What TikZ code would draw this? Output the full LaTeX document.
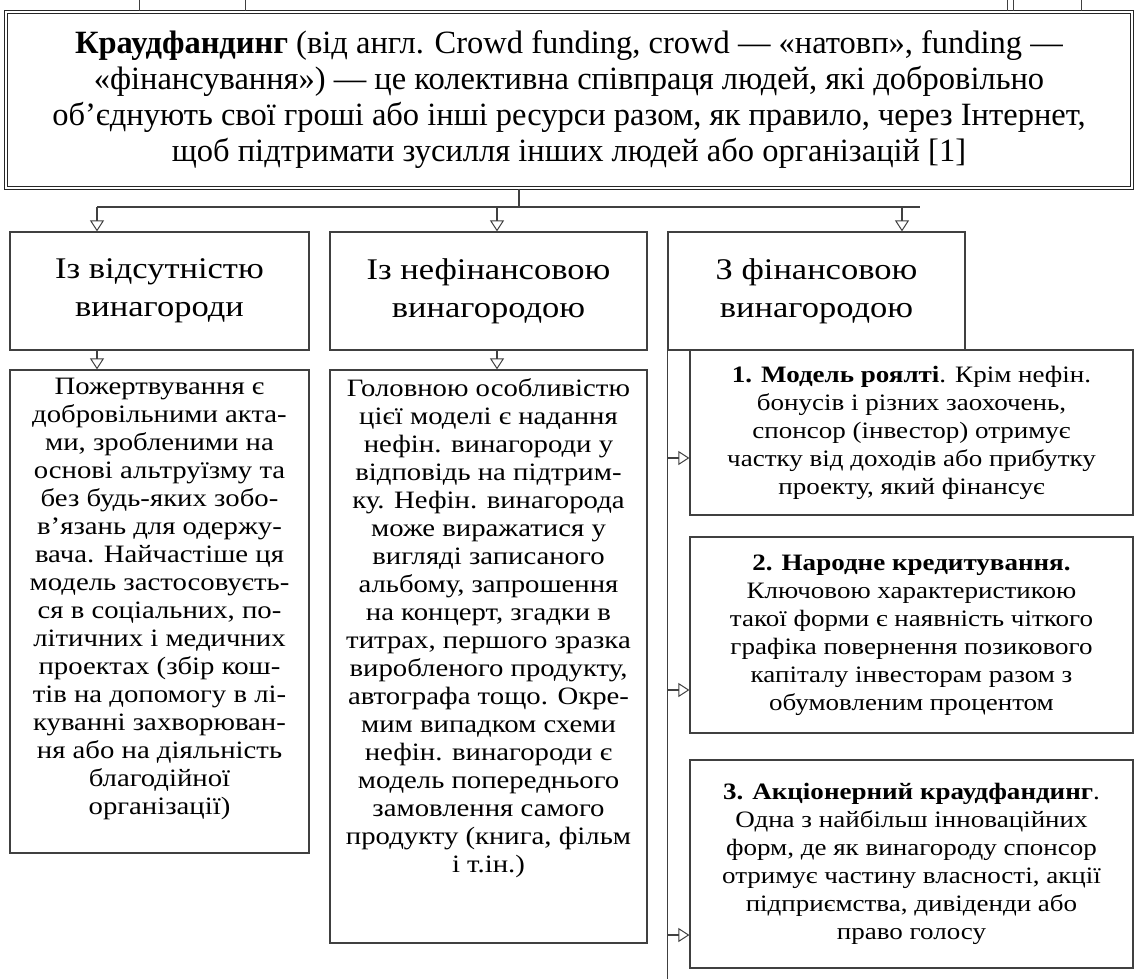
\documentclass[tikz,border=0pt]{standalone}
\usepackage{fontspec}
\setmainfont{Liberation Serif}
\newfontfamily\widefont[FakeStretch=1.15]{Liberation Serif}
\usetikzlibrary{arrows.meta,positioning}

\begin{document}
\begin{tikzpicture}[x=1pt,y=-1pt,
    frame/.style={draw=black!75, line width=1.2pt, inner sep=0pt, align=center},
    mainbox/.style={draw=black!85, line width=1.1pt, double, double distance=2.4pt, inner sep=0pt, align=center, font=\fontsize{32.5}{36}\selectfont},
    head/.style={frame, minimum height=118pt, font=\widefont\fontsize{30}{38}\selectfont},
    kind/.style={frame, minimum width=443pt, font=\widefont\fontsize{23.5}{28}\selectfont},
    body/.style={inner sep=0pt, align=center, font=\widefont\fontsize{25}{28}\selectfont},
    link/.style={draw=black!75, line width=1.1pt},
    arr/.style={link, -{Triangle[open,length=11pt,width=14pt,line width=1pt]}},
  ]
  \useasboundingbox (0,0) rectangle (1138,979);

  % definition
  \node[mainbox, minimum width=1126pt, minimum height=176pt] (crowd) at (569,100)
    {\textbf{Краудфандинг} (від англ. Crowd funding, crowd — «натовп», funding —\\
     «фінансування») — це колективна співпраця людей, які добровільно\\
     об’єднують свої гроші або інші ресурси разом, як правило, через Інтернет,\\
     щоб підтримати зусилля інших людей або організацій [1]};
  \foreach \xm in {139,245,1007,1013,1081}
    \draw[link, line width=0.8pt] (\xm,0) -- (\xm,0 |- crowd.north);

  % three kinds of reward
  \node[head, minimum width=299pt] (none) at (159.5,291) {Із відсутністю\\винагороди};
  \node[head, minimum width=317pt] (nonfin) at (488.5,291) {Із нефінансовою\\винагородою};
  \node[head, minimum width=297pt] (fin) at (816.5,291) {З фінансовою\\винагородою};

  \coordinate (bus) at (519,207);
  \coordinate (ca) at (97,0);
  \coordinate (cb) at (497,0);
  \coordinate (cc) at (902,0);
  \draw[link] (bus |- crowd.south) -- (bus);
  \draw[link] (ca |- bus) -- (920,207);
  \draw[arr] (ca |- bus) -- (ca |- none.north);
  \draw[arr] (cb |- bus) -- (cb |- nonfin.north);
  \draw[arr] (cc |- bus) -- (cc |- fin.north);

  % descriptions
  \node[frame, minimum width=299pt, minimum height=483pt] (donat) at (159.5,611.5) {};
  \node[body, anchor=north] (donattxt) at ([yshift=-9pt]donat.north)
    {Пожертвування є\\добровільними акта-\\ми, зробленими на\\основі альтруїзму та\\
     без будь-яких зобо-\\в’язань для одержу-\\вача. Найчастіше ця\\модель застосовуєть-\\
     ся в соціальних, по-\\літичних і медичних\\проектах (збір кош-\\тів на допомогу в лі-\\
     куванні захворюван-\\ня або на діяльність\\благодійної\\організації)};
  \node[frame, minimum width=317pt, minimum height=573pt] (reward) at (488.5,656.5) {};
  \node[body, anchor=north] (rewardtxt) at ([yshift=-9pt]reward.north)
    {Головною особливістю\\цієї моделі є надання\\нефін. винагороди у\\відповідь на підтрим-\\
     ку. Нефін. винагорода\\може виражатися у\\вигляді записаного\\альбому, запрошення\\
     на концерт, згадки в\\титрах, першого зразка\\виробленого продукту,\\автографа тощо. Окре-\\
     мим випадком схеми\\нефін. винагороди є\\модель попереднього\\замовлення самого\\
     продукту (книга, фільм\\і т.ін.)};
  \draw[arr] (ca |- none.south) -- (ca |- donat.north);
  \draw[arr] (cb |- nonfin.south) -- (cb |- reward.north);

  % financial models
  \node[kind, minimum height=165pt] (royal) at (911.5,432.5)
    {\textbf{1. Модель роялті}. Крім нефін.\\бонусів і різних заохочень,\\спонсор (інвестор) отримує\\
     частку від доходів або прибутку\\проекту, який фінансує};
  \node[kind, minimum height=196pt] (lend) at (911.5,635)
    {\textbf{2. Народне кредитування.}\\Ключовою характеристикою\\такої форми є наявність чіткого\\
     графіка повернення позикового\\капіталу інвесторам разом з\\обумовленим процентом};
  \node[kind, minimum height=208pt] (equity) at (911.5,864)
    {\textbf{3. Акціонерний краудфандинг}.\\Одна з найбільш інноваційних\\форм, де як винагороду спонсор\\
     отримує частину власності, акції\\підприємства, дивіденди або\\право голосу};

  \coordinate (fa) at (0,458);
  \coordinate (fb) at (0,690);
  \coordinate (fc) at (0,935);
  \draw[link] (fin.south west) -- (fin.south west |- 0,979);
  \draw[arr] (fin.south west |- fa) -- (royal.west |- fa);
  \draw[arr] (fin.south west |- fb) -- (lend.west |- fb);
  \draw[arr] (fin.south west |- fc) -- (equity.west |- fc);
\end{tikzpicture}
\end{document}
